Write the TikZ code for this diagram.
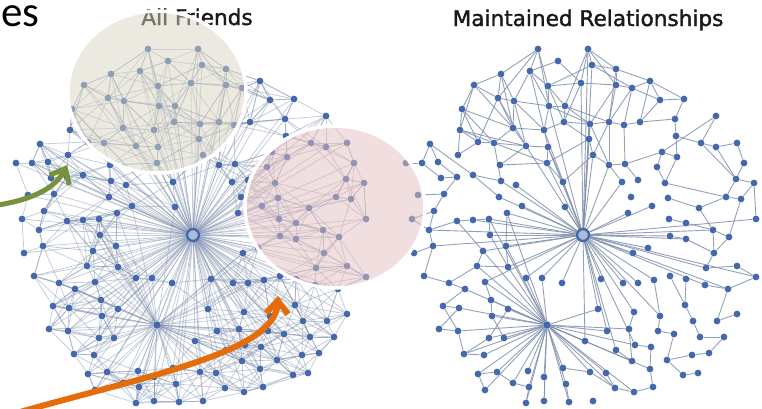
\documentclass[tikz,border=0pt]{standalone}
\usepackage{fontspec}
\newfontfamily\headfont[FakeBold=1.6]{DejaVu Sans}
\newfontfamily\slidefont{Carlito}
\usetikzlibrary{arrows.meta}
\usetikzlibrary{calc}

\definecolor{dotblue}{RGB}{68,104,172}
\definecolor{tieblue}{RGB}{128,144,172}
\definecolor{beige}{RGB}{217,213,193}
\definecolor{rose}{RGB}{228,190,190}
\definecolor{olive}{RGB}{118,146,60}
\definecolor{rust}{RGB}{228,108,10}

\pgfdeclarelayer{ties}
\pgfsetlayers{ties,main}

\tikzset{
  friend/.style={circle, fill=dotblue, inner sep=0pt, minimum size=6.8pt},
  hub/.style={circle, draw=dotblue, line width=2.4pt, fill=dotblue!45, inner sep=0pt, minimum size=12pt},
  tie/.style={draw=tieblue, line width=0.9pt, opacity=0.85},
  alltie/.style={draw=tieblue, line width=0.8pt, opacity=0.45},
  lens/.style={draw=white, line width=3.5pt, fill opacity=0.5},
  pointer/.style={line width=5pt, -{Straight Barb[length=13pt,width=22pt]}},
  heading/.style={font=\headfont\fontsize{21.6}{22}\selectfont, text=black!90, anchor=base, inner sep=0pt},
  slide/.style={font=\slidefont\fontsize{43}{43}\selectfont, anchor=base west, inner sep=0pt, text height=21pt, text depth=1pt}
}

% positions of the maintained network (the all friends one sits 390 to the left)
\newcommand{\people}{538/49, 588/49, 558/61, 592/65, 501/74, 530/71, 616/69, 474/85, 548/86, 581/83,
  616/85, 632/88, 650/81, 498/98, 514/101, 660/100, 684/99, 462/109, 549/106, 565/106,
  460/130, 513/128, 544/130, 564/122, 590/124, 609/122, 624/125, 640/122, 675/119, 716/116,
  478/142, 494/143, 526/146, 548/147, 589/139, 676/136, 701/143, 716/147, 737/143, 430/144,
  458/155, 547/163, 593/155, 609/165, 625/164, 662/152, 677/157, 422/163, 438/162, 500/165,
  657/167, 744/163, 441/178, 457/177, 473/175, 501/181, 516/185, 563/182, 622/182, 638/180,
  665/183, 736/179, 754/183, 444/194, 499/197, 726/197, 741/199, 668/198, 631/197, 434/211,
  522/206, 565/207, 628/213, 652/206, 669/219, 686/223, 699/208, 756/219, 429/230, 457/221,
  473/220, 489/219, 507/213, 490/235, 713/230, 670/236, 686/239, 729/237, 433/246, 506/246,
  483/251, 648/248, 633/253, 714/253, 477/266, 508/267, 706/268, 737/266, 756/277, 424/276,
  449/283, 485/282, 526/278, 542/278, 562/283, 601/279, 623/283, 638/283, 654/280, 670/276,
  686/279, 705/285, 728/289, 465/289, 443/306, 459/308, 491/300, 508/309, 492/316, 598/309,
  634/312, 660/316, 685/305, 717/321, 737/314, 693/321, 439/329, 458/331, 489/338, 504/338,
  607/331, 629/329, 658/331, 674/334, 700/337, 724/337, 585/341, 635/345, 651/347, 616/350,
  692/355, 709/353, 464/354, 484/355, 667/360, 632/361, 478/374, 497/372, 528/371, 563/368,
  590/372, 606/373, 650/369, 683/375, 698/373, 544/377, 513/383, 529/387, 566/384, 615/388,
  634/392, 653/387, 485/390, 526/403, 544/401, 569/402, 593/401, 406/163, 418/195, 412/219,
  414/253}

\newcommand{\keptties}{1/6,1/9,1/5,1/14,2/4,2/7,2/10,2/11,3/6,4/7,4/9,4/12,5/8,5/14,5/15,6/9,6/15,6/19,
  7/11,7/13,8/14,8/18,8/21,9/10,9/19,9/20,10/11,10/24,11/12,11/26,12/13,12/16,13/16,13/17,14/15,
  14/22,14/31,15/19,15/22,15/33,16/17,16/28,17/29,18/21,18/22,18/31,19/20,19/23,20/24,20/25,21/31,
  21/32,22/23,22/33,23/24,23/34,24/25,25/26,25/35,26/27,27/28,28/29,27/45,26/44,26/43,24/35,31/32,
  32/33,33/34,34/42,35/43,43/44,44/45,45/46,22/32,5/22,8/22,18/32,6/23,9/24,11/25,12/27,13/28,
  21/41,31/41,32/56,33/50,34/58,42/58,42/50,35/42,43/58,44/59,45/60,29/36,2/20,1/19,3/10,7/26,
  12/26,15/23,19/25,20/26,21/33,14/33,32/42,25/44,
  30/37,30/46,36/37,37/38,38/39,36/47,46/47,39/52,52/62,62/63,37/62,47/61,51/61,61/66,66/67,62/66,
  67/63,77/85,85/88,88/94,94/97,77/66,85/94,63/78,67/88,46/51,38/62,86/87,87/94,97/98,98/99,99/113,
  113/112,68/77,75/76,76/85,
  40/48,40/49,48/53,49/54,53/54,54/64,64/70,70/79,79/89,80/81,81/82,82/84,80/91,89/100,91/95,95/96,
  84/96,100/101,101/114,114/115,115/116,116/127,127/128,128/143,143/144,115/128,102/117,117/119,
  118/129,119/130,129/143,79/80,83/90,90/96,95/101,40/55,55/56,55/65,168/48,169/64,170/79,170/70,171/89,
  147/148,148/157,157/158,158/164,163/147,156/165,159/166,150/151,151/160,152/160,160/161,161/162,
  153/162,145/154,154/155,141/142,141/145,134/145,133/134,135/136,136/142,124/125,123/126,126/135,
  121/132,132/146,138/139,139/153,140/146,122/133,109/122,110/123,111/123,113/124}

\newcommand{\hubties}{42,43,34,35,25,23,58,59,44,33,19,10,2,4,72,71,83,84,90,91,81,82,65,56,57,92,93,
  73,74,86,87,78,85,104,105,106,107,108,103,120,121,122,137,131,138,140,96,102,109,113,112,99,97,79,89}
\newcommand{\subties}{117,118,102,96,116,119,129,130,128,143,144,147,148,149,156,157,158,163,164,165,
  159,150,151,152,166,131,132,146,153,137,120,103,104,114,95,91,82,83,90,160,161,138}

\begin{document}
\begin{tikzpicture}[x=1pt, y=-1pt]
  \useasboundingbox (0,0) rectangle (762,408);
  % titles
  \node[slide] (es) at (1,26) {es};
  \node[heading] (alltitle) at (197,25) {All Friends};
  \node[heading] (keeptitle) at (588,26) {Maintained Relationships};
  % people
  \node[hub] (fhub) at (193,235) {};
  \node[hub] (mhub) at (583,235) {};
  \node[friend, minimum size=7.5pt] (fsub) at (157,325) {};
  \node[friend, minimum size=7.5pt] (msub) at (547,325) {};
  \foreach \x/\y [count=\i] in \people {
    \node[friend] (f\i) at (\x-390,\y) {};
    \node[friend] (m\i) at (\x,\y) {};
  }
  \begin{pgfonlayer}{ties}
    % all friends
    \foreach \i in {1,...,171} \draw[alltie] (fhub) -- (f\i);
    \foreach \a/\b in \keptties \draw[alltie] (f\a) -- (f\b);
    \foreach \i in {1,...,171} {
      \path let \p1=($(fsub)-(f\i)$) in \pgfextra{\pgfmathsetmacro{\gap}{veclen(\x1,\y1)}\global\let\gap\gap};
      \ifdim\gap pt<130pt \draw[alltie] (fsub) -- (f\i); \fi
    }
    \foreach \i in {1,...,170} {
      \foreach \k in {1,...,16} {
        \pgfmathtruncatemacro{\j}{\i+\k}
        \ifnum\j<172
          \path let \p1=($(f\i)-(f\j)$) in \pgfextra{\pgfmathsetmacro{\gap}{veclen(\x1,\y1)}\global\let\gap\gap};
          \ifdim\gap pt<54pt \draw[alltie] (f\i) -- (f\j); \fi
        \fi
      }
    }
    % maintained
    \foreach \i in \hubties \draw[tie] (mhub) -- (m\i);
    \foreach \i in \subties \draw[tie] (msub) -- (m\i);
    \foreach \a/\b in \keptties \draw[tie] (m\a) -- (m\b);
  \end{pgfonlayer}
  % lenses
  \path[lens, fill=beige] (157,92) ellipse [x radius=89, y radius=81];
  \path[lens, fill=rose] (335,207) ellipse [x radius=90, y radius=81];
  % pointers
  \coordinate (greenfrom) at (-2,205);
  \coordinate (greento) at (67,165);
  \coordinate (orangefrom) at (20,412);
  \coordinate (orangeto) at (278,296);
  \draw[pointer, olive] (greenfrom) .. controls (35,199) and (56,187) .. (greento);
  \draw[pointer, rust, line width=6pt] (orangefrom) .. controls (150,375) and (275,352) .. (orangeto);
\end{tikzpicture}
\end{document}
